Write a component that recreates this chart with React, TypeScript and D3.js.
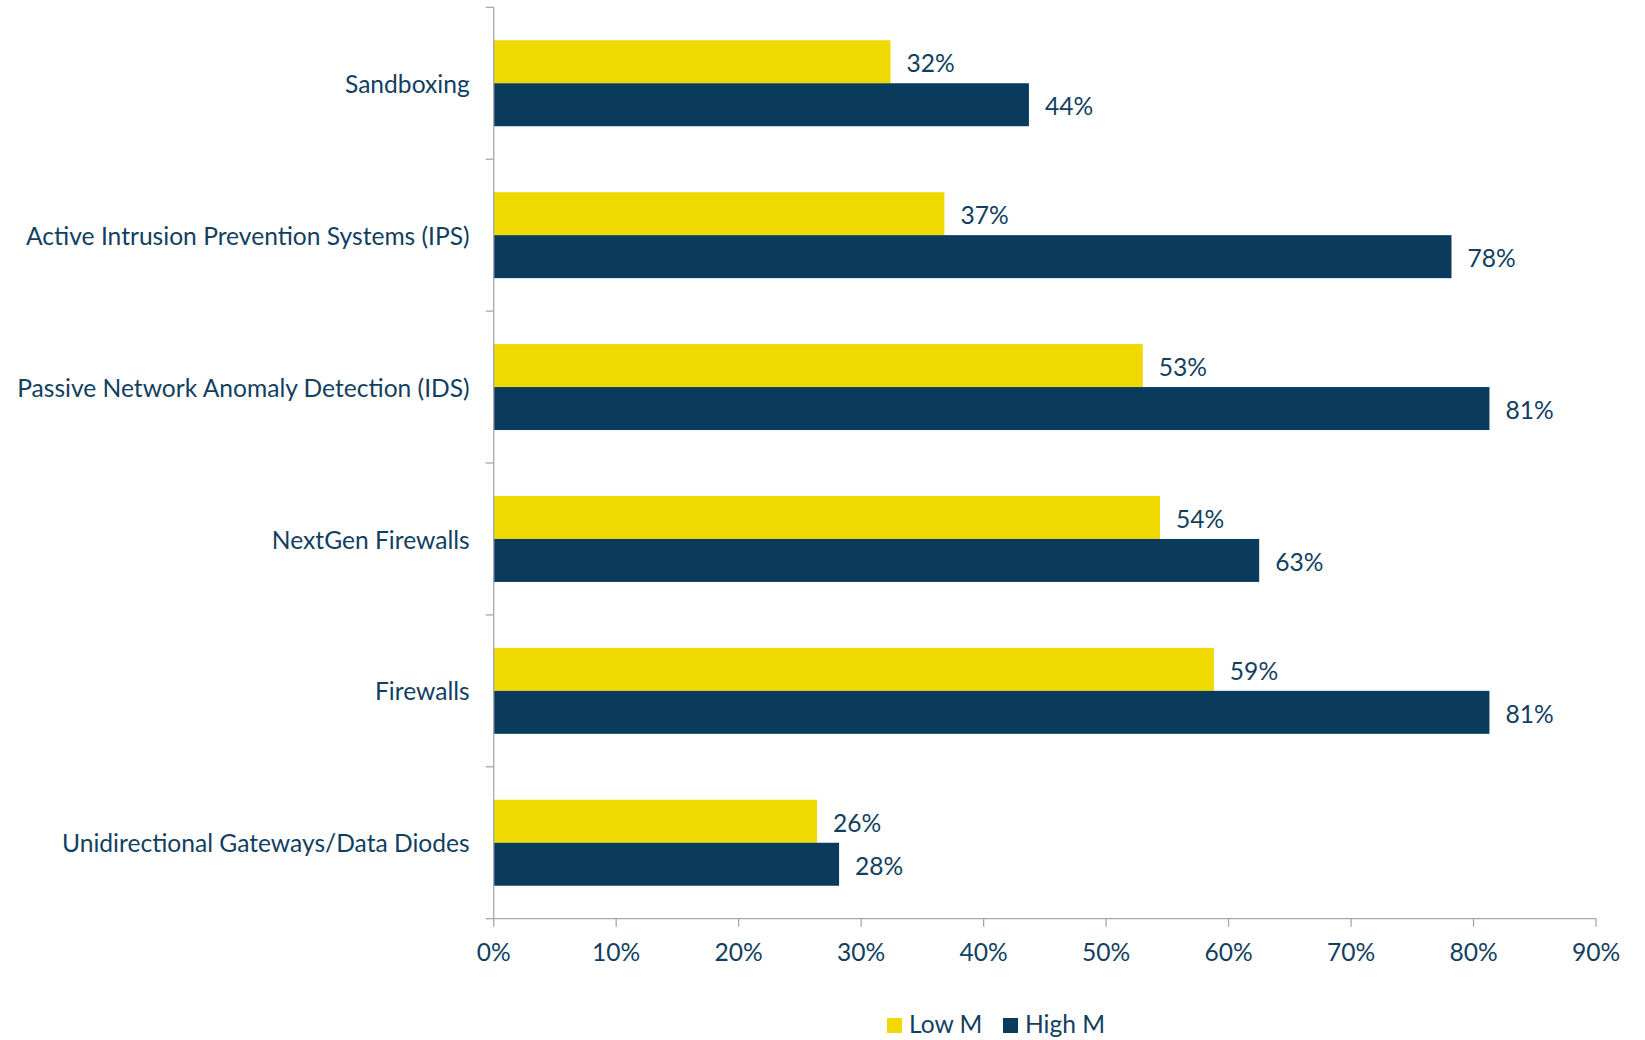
import React from "react";
import * as d3 from "d3";

const categories = [
  "Sandboxing",
  "Active Intrusion Prevention Systems (IPS)",
  "Passive Network Anomaly Detection (IDS)",
  "NextGen Firewalls",
  "Firewalls",
  "Unidirectional Gateways/Data Diodes",
];
const seriesNames = ["Low M", "High M"];
const lowM = [32.4, 36.8, 53.0, 54.4, 58.8, 26.4];
const highM = [43.7, 78.2, 81.3, 62.5, 81.3, 28.2];
const xTicks = [0, 10, 20, 30, 40, 50, 60, 70, 80, 90];

const W = 1645;
const H = 1040;
const left = 493.7;
const right = 1596;
const top = 7.3;
const bottom = 918.7;
const colors = ["#F0D900", "#0A3B5C"];
const textColor = "#123F61";
const axisColor = "#A3A8B3";
const FONT = "Lato, 'Open Sans', sans-serif";
const FS = 24.6;

export default function App() {
  const x = d3.scaleLinear().domain([0, 90]).range([left, right]);
  const y = d3.scaleBand<string>().domain(categories).range([top, bottom]).padding(0);
  const step = y.step();
  const groupH = step * 0.566;
  const sub = d3.scaleBand<string>().domain(seriesNames).range([0, groupH]).padding(0);
  const series = [lowM, highM];
  const boundaries = d3.range(categories.length + 1).map((i) => top + i * step);

  return (
    <svg width={W} height={H} style={{ position: "absolute", left: 0, top: 0, background: "#fff" }}>
      {categories.map((c, i) => {
        const cy = (y(c) as number) + step / 2 - groupH / 2;
        return (
          <g key={c}>
            {series.map((s, k) => {
              const by = cy + (sub(seriesNames[k]) as number);
              return (
                <g key={k}>
                  <rect x={x(0)} y={by} width={x(s[i]) - x(0)} height={sub.bandwidth()} fill={colors[k]} />
                  <text
                    x={x(s[i]) + 16}
                    y={by + sub.bandwidth() / 2 + 2}
                    dy="0.35em"
                    fontFamily={FONT}
                    fontSize={FS}
                    fill={textColor}
                  >
                    {Math.round(s[i])}%
                  </text>
                </g>
              );
            })}
            <text
              x={left - 24}
              y={(y(c) as number) + step / 2 + 1}
              dy="0.35em"
              textAnchor="end"
              fontFamily={FONT}
              fontSize={FS}
              fill={textColor}
            >
              {c}
            </text>
          </g>
        );
      })}
      <line x1={left} x2={left} y1={top} y2={bottom} stroke={axisColor} strokeWidth={1.3} />
      {boundaries.map((b, i) => (
        <line key={i} x1={left - 8} x2={left} y1={b} y2={b} stroke={axisColor} strokeWidth={1.3} />
      ))}
      <line x1={left} x2={right} y1={bottom} y2={bottom} stroke={axisColor} strokeWidth={1.3} />
      {xTicks.map((t) => (
        <g key={t}>
          <line x1={x(t)} x2={x(t)} y1={bottom} y2={bottom + 8} stroke={axisColor} strokeWidth={1.3} />
          <text
            x={x(t)}
            y={952}
            dy="0.35em"
            textAnchor="middle"
            fontFamily={FONT}
            fontSize={FS}
            fill={textColor}
          >
            {t}%
          </text>
        </g>
      ))}
      {seriesNames.map((n, k) => {
        const lx = [887, 1003][k];
        return (
          <g key={n}>
            <rect x={lx} y={1018} width={15} height={15} fill={colors[k]} />
            <text x={lx + 22} y={1024} dy="0.35em" fontFamily={FONT} fontSize={FS} fill={textColor}>
              {n}
            </text>
          </g>
        );
      })}
    </svg>
  );
}
